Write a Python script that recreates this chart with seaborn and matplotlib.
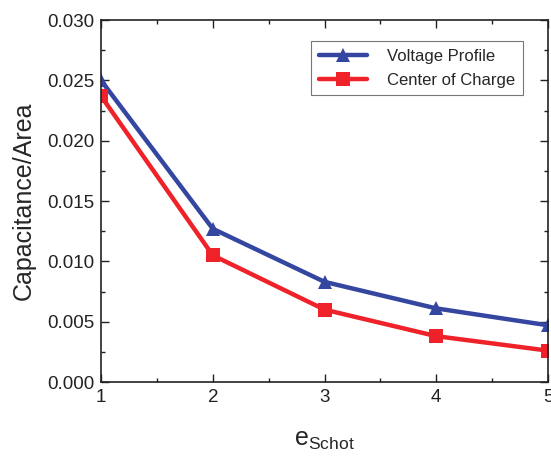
import matplotlib
matplotlib.use("Agg")
import matplotlib.pyplot as plt
import seaborn as sns
import pandas as pd
from matplotlib.ticker import MultipleLocator, FormatStrFormatter

e_schot = [1, 2, 3, 4, 5]
voltage_profile = [0.0250, 0.0127, 0.0083, 0.0061, 0.0047]
center_of_charge = [0.0237, 0.0105, 0.0060, 0.0038, 0.0026]
series_names = ["Voltage Profile", "Center of Charge"]

sns.set_style("ticks")
plt.rcParams["font.family"] = ["Liberation Sans", "DejaVu Sans"]
plt.rcParams["mathtext.fontset"] = "custom"
plt.rcParams["mathtext.rm"] = "Liberation Sans"
plt.rcParams["mathtext.it"] = "Liberation Sans"

df = pd.DataFrame({
    "e": e_schot * 2,
    "cap": voltage_profile + center_of_charge,
    "series": [series_names[0]] * len(e_schot) + [series_names[1]] * len(e_schot),
})

fig = plt.figure(figsize=(5.51, 4.57), dpi=100)
ax = fig.add_axes([0.1833, 0.1641, 0.8113, 0.7921])

sns.lineplot(
    data=df, x="e", y="cap", hue="series", style="series",
    palette=["#3446a0", "#ee2228"], markers=["^", "s"], dashes=False,
    linewidth=3.2, markersize=10, markeredgewidth=0, ax=ax,
)

ax.set_xlim(1, 5)
ax.set_ylim(0, 0.030)
ax.xaxis.set_major_locator(MultipleLocator(1))
ax.xaxis.set_minor_locator(MultipleLocator(0.5))
ax.yaxis.set_major_locator(MultipleLocator(0.005))
ax.yaxis.set_minor_locator(MultipleLocator(0.0025))
ax.yaxis.set_major_formatter(FormatStrFormatter("%.3f"))
ax.tick_params(which="both", direction="in", top=True, right=True, width=1,
               colors="#222222", labelcolor="#222222")
ax.tick_params(which="major", length=6, labelsize=13.5, pad=5)
ax.tick_params(which="minor", length=3)
for s in ax.spines.values():
    s.set_linewidth(1.2)
    s.set_color("#222222")

ax.set_xlabel(r"e$_{\mathrm{Schot}}$", fontsize=18, labelpad=16)
ax.set_ylabel("Capacitance/Area", fontsize=18, labelpad=8)

leg = ax.legend(loc="upper right", bbox_to_anchor=(0.962, 0.965), fontsize=12,
                frameon=True, fancybox=False, edgecolor="#555555",
                handlelength=2.9, borderpad=0.45, labelspacing=0.55, handletextpad=1.2)
leg.get_frame().set_linewidth(0.8)

fig.savefig("out.png", dpi=100)
